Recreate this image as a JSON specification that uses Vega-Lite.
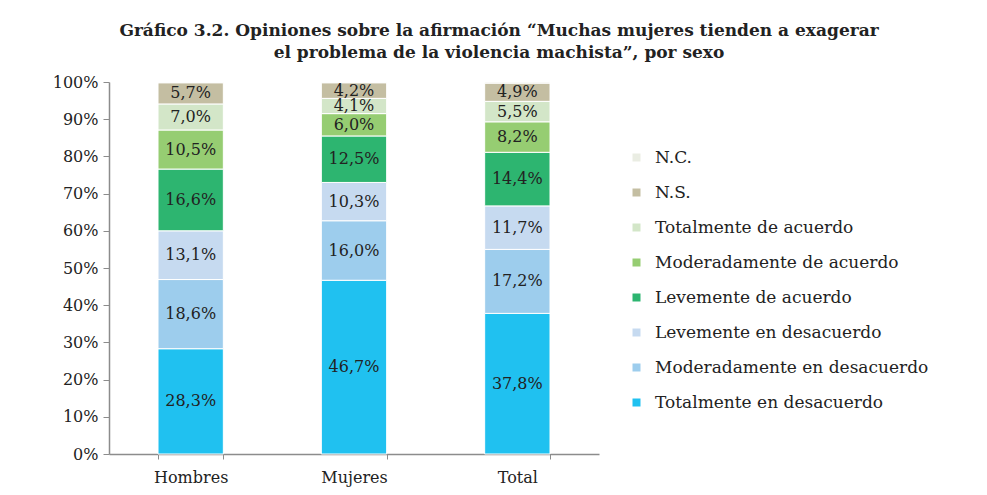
{
  "$schema": "https://vega.github.io/schema/vega-lite/v6.json",
  "autosize": {"type": "none"},
  "padding": {"top": 82, "left": 109, "right": 388, "bottom": 41},
  "width": 490,
  "height": 372,
  "background": "white",
  "config": {
    "locale": {"number": {"decimal": ",", "thousands": ".", "grouping": [3], "currency": ["", " €"]}},
    "view": {"stroke": null},
    "font": "DejaVu Serif",
    "axisY": {"labelOverlap": false}
  },
  "title": {
    "text": ["Gráfico 3.2. Opiniones sobre la afirmación “Muchas mujeres tienden a exagerar", "el problema de la violencia machista”, por sexo"],
    "font": "DejaVu Serif",
    "fontSize": 17,
    "fontWeight": "bold",
    "color": "#222222",
    "anchor": "middle",
    "frame": "group",
    "dx": 145,
    "offset": 12,
    "lineHeight": 22
  },
  "data": {
    "values": [
      {"grupo": "Hombres", "resp": "Totalmente en desacuerdo", "ord": 1, "v": 0.283},
      {"grupo": "Hombres", "resp": "Moderadamente en desacuerdo", "ord": 2, "v": 0.186},
      {"grupo": "Hombres", "resp": "Levemente en desacuerdo", "ord": 3, "v": 0.131},
      {"grupo": "Hombres", "resp": "Levemente de acuerdo", "ord": 4, "v": 0.166},
      {"grupo": "Hombres", "resp": "Moderadamente de acuerdo", "ord": 5, "v": 0.105},
      {"grupo": "Hombres", "resp": "Totalmente de acuerdo", "ord": 6, "v": 0.070},
      {"grupo": "Hombres", "resp": "N.S.", "ord": 7, "v": 0.057},
      {"grupo": "Hombres", "resp": "N.C.", "ord": 8, "v": 0.002},
      {"grupo": "Mujeres", "resp": "Totalmente en desacuerdo", "ord": 1, "v": 0.467},
      {"grupo": "Mujeres", "resp": "Moderadamente en desacuerdo", "ord": 2, "v": 0.160},
      {"grupo": "Mujeres", "resp": "Levemente en desacuerdo", "ord": 3, "v": 0.103},
      {"grupo": "Mujeres", "resp": "Levemente de acuerdo", "ord": 4, "v": 0.125},
      {"grupo": "Mujeres", "resp": "Moderadamente de acuerdo", "ord": 5, "v": 0.060},
      {"grupo": "Mujeres", "resp": "Totalmente de acuerdo", "ord": 6, "v": 0.041},
      {"grupo": "Mujeres", "resp": "N.S.", "ord": 7, "v": 0.042},
      {"grupo": "Mujeres", "resp": "N.C.", "ord": 8, "v": 0.002},
      {"grupo": "Total", "resp": "Totalmente en desacuerdo", "ord": 1, "v": 0.378},
      {"grupo": "Total", "resp": "Moderadamente en desacuerdo", "ord": 2, "v": 0.172},
      {"grupo": "Total", "resp": "Levemente en desacuerdo", "ord": 3, "v": 0.117},
      {"grupo": "Total", "resp": "Levemente de acuerdo", "ord": 4, "v": 0.144},
      {"grupo": "Total", "resp": "Moderadamente de acuerdo", "ord": 5, "v": 0.082},
      {"grupo": "Total", "resp": "Totalmente de acuerdo", "ord": 6, "v": 0.055},
      {"grupo": "Total", "resp": "N.S.", "ord": 7, "v": 0.049},
      {"grupo": "Total", "resp": "N.C.", "ord": 8, "v": 0.003}
    ]
  },
  "encoding": {
    "x": {
      "field": "grupo", "type": "nominal", "title": null, "sort": ["Hombres", "Mujeres", "Total"],
      "scale": {"paddingInner": 0.6, "paddingOuter": 0.3},
      "axis": {"labelAngle": 0, "labelFont": "DejaVu Serif", "labelFontSize": 16, "labelColor": "#222222", "labelPadding": 10, "ticks": true, "tickBand": "extent", "tickSize": 5, "tickColor": "#8c8c8c", "domainColor": "#8c8c8c", "domainWidth": 1.5}
    }
  },
  "layer": [
    {
      "mark": {"type": "bar", "stroke": "white", "strokeWidth": 1},
      "encoding": {
        "y": {
          "field": "v", "type": "quantitative", "stack": "zero", "title": null,
          "scale": {"domain": [0, 1], "nice": false},
          "axis": {"values": [0, 0.1, 0.2, 0.3, 0.4, 0.5, 0.6, 0.7, 0.8, 0.9, 1], "labelOverlap": false, "format": ".0%", "grid": false, "labelFont": "DejaVu Serif", "labelFontSize": 16, "labelColor": "#222222", "labelPadding": 5, "tickSize": 6, "tickColor": "#8c8c8c", "domainColor": "#8c8c8c", "domainWidth": 1.5}
        },
        "order": {"field": "ord", "type": "quantitative", "sort": "ascending"},
        "color": {
          "field": "resp", "type": "nominal", "title": null,
          "scale": {
            "domain": ["N.C.", "N.S.", "Totalmente de acuerdo", "Moderadamente de acuerdo", "Levemente de acuerdo", "Levemente en desacuerdo", "Moderadamente en desacuerdo", "Totalmente en desacuerdo"],
            "range": ["#EAEDE3", "#C4BEA2", "#D3E6C8", "#96CD72", "#2DB570", "#C6DAF0", "#9DCDED", "#20C1F0"]
          },
          "legend": {
            "orient": "none", "legendX": 519, "legendY": 67,
            "symbolType": "square", "symbolSize": 64, "symbolStrokeWidth": 0,
            "labelFont": "DejaVu Serif", "labelFontSize": 17, "labelColor": "#222222",
            "labelOffset": 10, "rowPadding": 17, "labelLimit": 400
          }
        }
      }
    },
    {
      "transform": [{"filter": "datum.resp !== 'N.C.'"}],
      "mark": {"type": "text", "font": "DejaVu Serif", "fontSize": 16, "color": "#222222", "baseline": "middle", "align": "center"},
      "encoding": {
        "y": {
          "field": "v", "type": "quantitative", "stack": "zero", "bandPosition": 0.5, "title": null,
          "axis": {"values": [0, 0.1, 0.2, 0.3, 0.4, 0.5, 0.6, 0.7, 0.8, 0.9, 1], "labelOverlap": false, "format": ".0%", "grid": false, "labelFont": "DejaVu Serif", "labelFontSize": 16, "labelColor": "#222222", "labelPadding": 5, "tickSize": 6, "tickColor": "#8c8c8c", "domainColor": "#8c8c8c", "domainWidth": 1.5}
        },
        "order": {"field": "ord", "type": "quantitative", "sort": "ascending"},
        "text": {"field": "v", "type": "quantitative", "format": ".1%"}
      }
    }
  ]
}
